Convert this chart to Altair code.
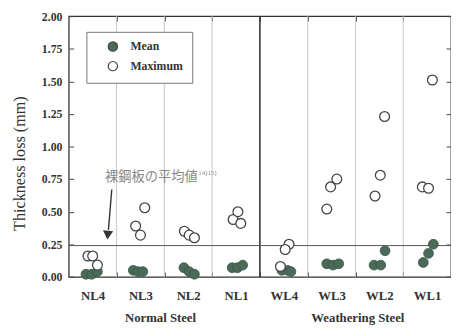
import altair as alt
import pandas as pd

labels = ["NL4", "NL3", "NL2", "NL1", "WL4", "WL3", "WL2", "WL1"]
mean_values = [
    [0.02, 0.02, 0.04],
    [0.05, 0.04, 0.04],
    [0.07, 0.04, 0.02],
    [0.07, 0.07, 0.09],
    [0.05, 0.05, 0.04],
    [0.10, 0.09, 0.10],
    [0.20, 0.09, 0.09],
    [0.25, 0.18, 0.11],
]
mean_offsets = [
    [-0.14, -0.02, 0.10],
    [-0.15, -0.05, 0.05],
    [-0.09, 0.02, 0.13],
    [-0.08, 0.03, 0.14],
    [-0.04, 0.08, 0.15],
    [-0.10, 0.03, 0.15],
    [0.12, -0.11, 0.03],
    [0.13, 0.03, -0.08],
]
max_values = [
    [0.16, 0.16, 0.09],
    [0.53, 0.39, 0.32],
    [0.35, 0.32, 0.30],
    [0.44, 0.50, 0.41],
    [0.25, 0.21, 0.08],
    [0.75, 0.69, 0.52],
    [1.23, 0.78, 0.62],
    [1.51, 0.69, 0.68],
]
max_offsets = [
    [-0.10, 0.0, 0.10],
    [0.09, -0.10, 0.0],
    [-0.08, 0.02, 0.13],
    [-0.06, 0.04, 0.10],
    [0.11, 0.03, -0.07],
    [0.11, -0.02, -0.10],
    [0.11, 0.02, -0.09],
    [0.11, -0.10, 0.03],
]
groups = ["Normal Steel", "Weathering Steel"]
group_centers = [1.92, 6.05]
boundaries = [1, 2, 3, 4, 5, 6, 7]
bare_steel_avg = 0.24
annot_text = "裸鋼板の平均値"
annot_sup = "14)15)"

W, H = 390, 266
FONT = "Liberation Serif"


def build(values, offsets, series):
    rows = []
    for i, lab in enumerate(labels):
        for v, o in zip(values[i], offsets[i]):
            rows.append({"label": lab, "x": i + 0.5 + o, "value": v, "series": series})
    return pd.DataFrame(rows)


df_mean = build(mean_values, mean_offsets, "Mean")
df_max = build(max_values, max_offsets, "Maximum")
df_bound = pd.DataFrame({"b": boundaries, "main": [b == 4 for b in boundaries]})
df_groups = pd.DataFrame({"g": groups, "x": group_centers})

xscale = alt.Scale(domain=[0, 8], nice=False, zero=False)
yscale = alt.Scale(domain=[0, 2], nice=False)
fill_scale = alt.Scale(domain=["Mean", "Maximum"], range=["#4a6b58", "#ffffff"])
yvals = [i * 0.25 for i in range(9)]
centers = [i + 0.5 for i in range(8)]
label_expr = "[" + ",".join('"%s"' % l for l in labels) + "][floor(datum.value)]"

grid = alt.Chart(df_bound).mark_rule().encode(
    x=alt.X("b:Q", scale=xscale,
            axis=alt.Axis(orient="bottom", offset=-H, values=boundaries, labels=False,
                          ticks=True, tickSize=5, tickColor="#444", domain=False,
                          grid=False, title=None)),
    color=alt.condition("datum.main", alt.value("#333333"), alt.value("#c8c8c8")),
    strokeWidth=alt.condition("datum.main", alt.value(1.6), alt.value(1)),
)

means = alt.Chart(df_mean).mark_point(filled=True, opacity=1, size=100,
                                       stroke="#3a5446", strokeWidth=0.8).encode(
    x=alt.X("x:Q", scale=xscale,
            axis=alt.Axis(orient="bottom", values=centers, labelExpr=label_expr,
                          ticks=False, domain=False, grid=False, title=None,
                          labelFont=FONT, labelFontWeight="bold", labelFontSize=13,
                          labelColor="#333", labelPadding=13)),
    y=alt.Y("value:Q", scale=yscale,
            axis=alt.Axis(orient="left", values=yvals, format=".2f", ticks=False,
                          domain=False, grid=False, title="Thickness loss (mm)",
                          labelFont=FONT, labelFontWeight="bold", labelFontSize=12,
                          labelColor="#333", labelPadding=7,
                          titleFont=FONT, titleFontSize=16.5, titleFontWeight="normal",
                          titleColor="#333", titlePadding=14, titleY=150)),
    fill=alt.Fill("series:N", scale=fill_scale, title=None),
)

maxs = alt.Chart(df_max).mark_point(filled=True, opacity=1, size=100,
                                     stroke="#444444", strokeWidth=1.3).encode(
    x=alt.X("x:Q", scale=xscale,
            axis=alt.Axis(orient="top", offset=-H, values=boundaries, labels=False,
                          ticks=True, tickSize=5, tickColor="#444", domain=False,
                          grid=False, title=None)),
    y=alt.Y("value:Q", scale=yscale,
            axis=alt.Axis(orient="right", offset=-W, values=yvals, labels=False,
                          ticks=True, tickSize=5, tickColor="#444", domain=False,
                          grid=False, title=None)),
    fill=alt.Fill("series:N", scale=fill_scale, title=None),
)

hline = alt.Chart(pd.DataFrame({"v": [bare_steel_avg]})).mark_rule(
    color="#555", strokeWidth=1).encode(
    y=alt.Y("v:Q", scale=yscale,
            axis=alt.Axis(orient="left", offset=-W, values=yvals, labels=False,
                          ticks=True, tickSize=5, tickColor="#444", domain=False,
                          grid=False, title=None)),
)

arrow_line = alt.Chart(pd.DataFrame({"x1": [0.90], "y1": [0.67], "x2": [0.83], "y2": [0.36]})).mark_rule(
    color="#333", strokeWidth=1.4).encode(
    x=alt.X("x1:Q", scale=xscale, axis=None),
    y=alt.Y("y1:Q", scale=yscale, axis=None),
    x2="x2:Q", y2="y2:Q",
)
arrow_head = alt.Chart(pd.DataFrame({"x": [0.815], "y": [0.32]})).mark_point(
    shape="triangle-down", filled=True, color="#333", opacity=1, size=110, angle=5).encode(
    x=alt.X("x:Q", scale=xscale, axis=None),
    y=alt.Y("y:Q", scale=yscale, axis=None),
)
annot = alt.Chart(pd.DataFrame({"x": [0.76], "y": [0.765], "t": [annot_text]})).mark_text(
    align="left", baseline="middle", font="Noto Sans CJK JP", fontSize=13.5, color="#888").encode(
    x=alt.X("x:Q", scale=xscale, axis=None),
    y=alt.Y("y:Q", scale=yscale, axis=None),
    text="t:N",
)
annot2 = alt.Chart(pd.DataFrame({"x": [2.71], "y": [0.80], "t": [annot_sup]})).mark_text(
    align="left", baseline="middle", font=FONT, fontSize=7, color="#888").encode(
    x=alt.X("x:Q", scale=xscale, axis=None),
    y=alt.Y("y:Q", scale=yscale, axis=None),
    text="t:N",
)
group_text = alt.Chart(df_groups).mark_text(
    align="center", baseline="middle", font=FONT, fontSize=13, fontWeight="bold",
    color="#333").encode(
    x=alt.X("x:Q", scale=xscale, axis=None),
    y=alt.value(H + 42),
    text="g:N",
)

chart = alt.layer(grid, hline, means, maxs, arrow_line, arrow_head, annot, annot2, group_text).resolve_axis(
    x="independent", y="independent"
).properties(
    width=W, height=H,
    autosize=alt.AutoSizeParams(type="none"),
    padding={"left": 62, "top": 5, "right": 0, "bottom": 55},
).configure_view(
    stroke="#333", strokeWidth=1.3
).configure_legend(
    orient="none", legendX=18, legendY=16, strokeColor="#777", fillColor="white",
    padding=9, symbolOffset=12, labelOffset=12, symbolSize=90, symbolStrokeColor="#444",
    symbolStrokeWidth=1.2, labelFont=FONT, labelFontWeight="bold", labelFontSize=12,
    labelColor="#333", rowPadding=4, symbolType="circle",
)

chart.save("out.html", embed_options={"renderer": "svg", "actions": False})
